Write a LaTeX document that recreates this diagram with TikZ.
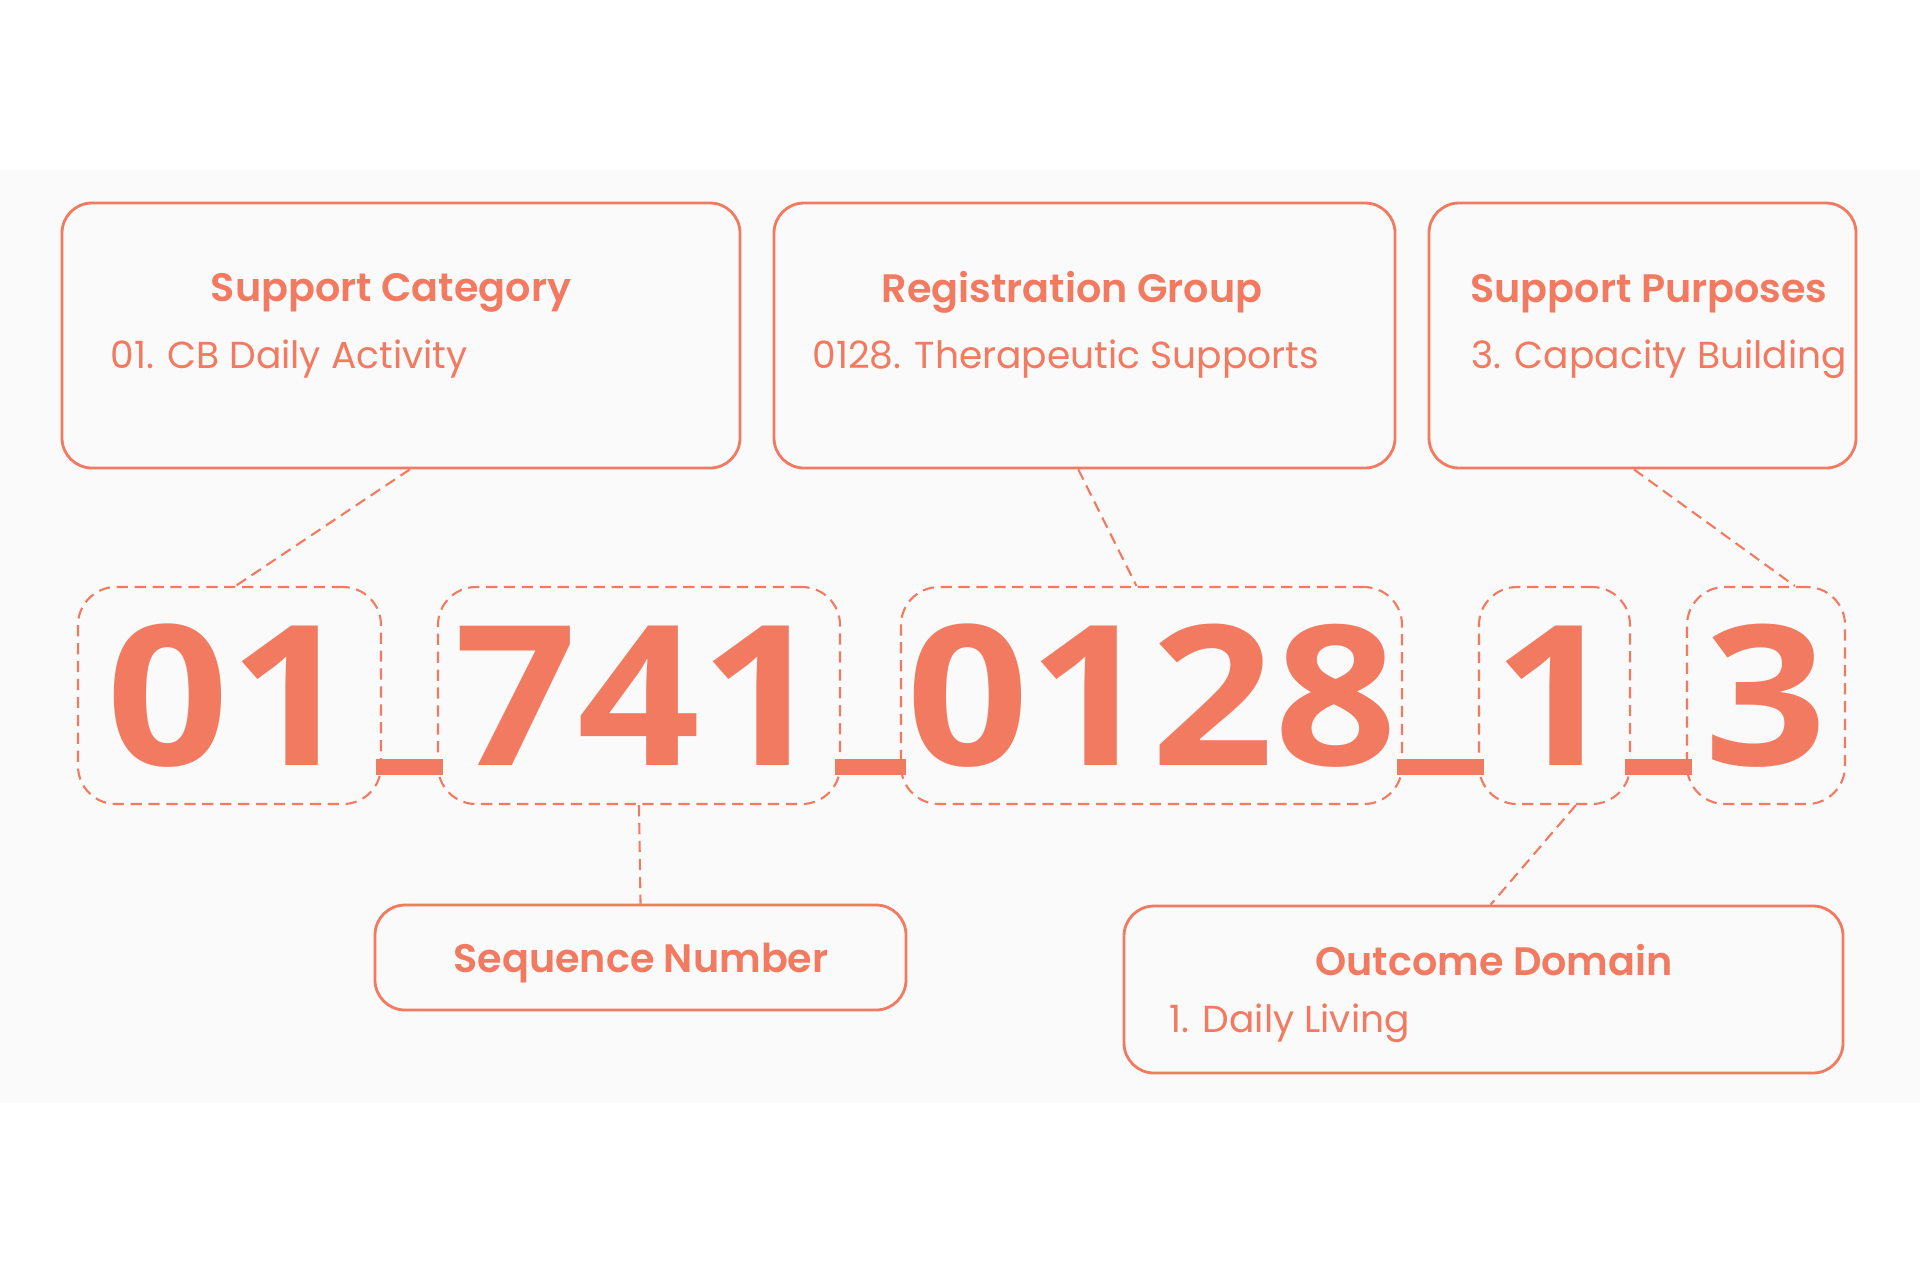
\documentclass[tikz,border=0pt]{standalone}
\usepackage{fontspec}
\usepackage{graphicx}
\setmainfont{Poppins}
\newfontfamily\headfont{Poppins SemiBold}
\newfontfamily\digitfont{Open Sans}
\usetikzlibrary{ calc,        % For points along the box edges
               }
\definecolor{coral}{RGB}{242,122,96}
\definecolor{bandgray}{RGB}{250,250,250}
\newcommand{\wide}[1]{\scalebox{1.1}[1]{#1}}
\tikzstyle{infobox} = [rectangle, rounded corners=0.3cm, draw=coral, line width=0.8pt, inner sep=0pt]
\tikzstyle{segment} = [rectangle, rounded corners=0.38cm, draw=coral, line width=0.6pt, dash pattern=on 3.2pt off 1.9pt, text=coral, inner sep=0pt, font=\digitfont\bfseries\fontsize{55.6}{60}\selectfont]
\tikzstyle{head} = [text=coral, anchor=base, font=\headfont\fontsize{11.3}{13}\selectfont]
\tikzstyle{detail} = [text=coral, anchor=base west, font=\fontsize{10.7}{13}\selectfont]
\tikzstyle{link} = [draw=coral, line width=0.6pt, dash pattern=on 3.2pt off 1.9pt]

\begin{document}
\begin{tikzpicture}
  \fill[white] (0,0) rectangle (19.2,-12.75);
  \fill[bandgray] (0,-1.70) rectangle (19.2,-11.03);
  \useasboundingbox (0,0) rectangle (19.2,-12.75);

  % description boxes
  \node (cat) [infobox, minimum width=6.78cm, minimum height=2.65cm] at (4.01, -3.355) {};
  \node (reg) [infobox, minimum width=6.21cm, minimum height=2.65cm] at (10.845, -3.355) {};
  \node (pur) [infobox, minimum width=4.27cm, minimum height=2.65cm] at (16.425, -3.355) {};
  \node (seq) [infobox, minimum width=5.31cm, minimum height=1.05cm] at (6.405, -9.575) {};
  \node (out) [infobox, minimum width=7.19cm, minimum height=1.67cm] at (14.835, -9.895) {};

  \node (catH) [head] at (3.91, -3.01) {Support Category};
  \node (catD) [detail] at (0.98, -3.68) {01. CB Daily Activity};
  \node (regH) [head] at (10.72, -3.02) {Registration Group};
  \node (regD) [detail] at (8.00, -3.68) {0128. Therapeutic Supports};
  \node (purH) [head] at (16.49, -3.02) {Support Purposes};
  \node (purD) [detail] at (14.59, -3.68) {3. Capacity Building};
  \node (seqH) [head] at (6.41, -9.72) {Sequence Number};
  \node (outH) [head] at (14.94, -9.75) {Outcome Domain};
  \node (outD) [detail] at (11.57, -10.32) {1. Daily Living};

  % code segments
  \node (d01)   [segment, minimum width=3.03cm, minimum height=2.17cm] at (2.295, -6.955) {\wide{01}};
  \node (d741)  [segment, minimum width=4.02cm, minimum height=2.17cm] at (6.39, -6.955) {\wide{741}};
  \node (d0128) [segment, minimum width=5.01cm, minimum height=2.17cm] at (11.515, -6.955) {\wide{0128}};
  \node (d1)    [segment, minimum width=1.51cm, minimum height=2.17cm] at (15.545, -6.955) {\wide{1}};
  \node (d3)    [segment, minimum width=1.58cm, minimum height=2.17cm] at (17.66, -6.955) {\wide{3}};

  % underscores
  \foreach \a/\b in {d01/d741, d741/d0128, d0128/d1, d1/d3}
    \fill[coral] ($(\a.east |- 0,-7.59)+(-0.06,0)$) rectangle ($(\b.west |- 0,-7.75)+(0.06,0)$);

  % leader lines
  \draw[link] ($(cat.south west)!0.513!(cat.south east)$) -- ($(d01.north west)!0.52!(d01.north east)$);
  \draw[link] ($(reg.south west)!0.49!(reg.south east)$) -- ($(d0128.north west)!0.47!(d0128.north east)$);
  \draw[link] ($(pur.south west)!0.48!(pur.south east)$) -- ($(d3.north west)!0.68!(d3.north east)$);
  \draw[link] (d741.south) -- (seq.north);
  \draw[link] ($(d1.south west)!0.64!(d1.south east)$) -- ($(out.north west)!0.51!(out.north east)$);
\end{tikzpicture}
\end{document}
